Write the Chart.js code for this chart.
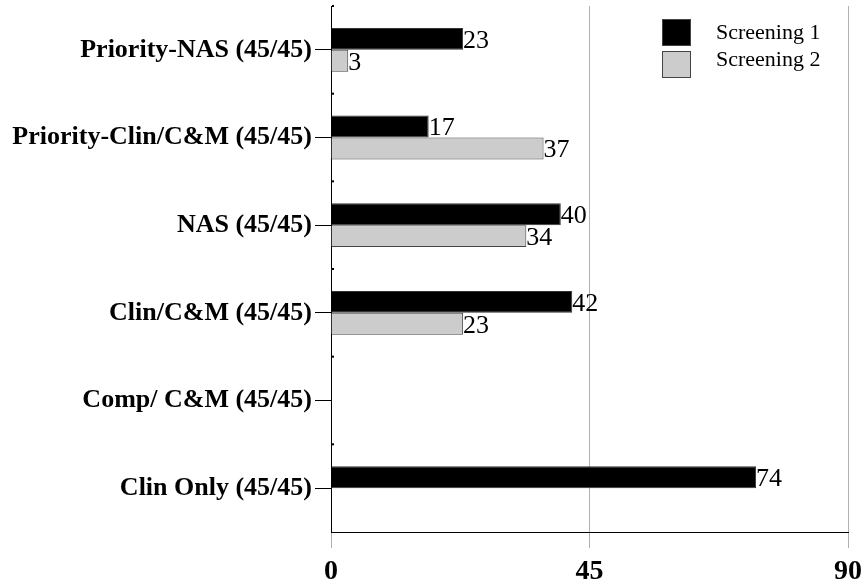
<!DOCTYPE html>
<html>
<head>
<meta charset="utf-8">
<script src="https://cdn.jsdelivr.net/npm/chart.js@4/dist/chart.umd.min.js"></script>
<style>
  html, body { margin: 0; padding: 0; background: #fff; }
  #wrap { width: 865px; height: 583px; position: relative; }
</style>
</head>
<body>
<div id="wrap"><canvas id="chart"></canvas></div>
<script>
const categories = ['Priority-NAS (45/45)', 'Priority-Clin/C&M (45/45)', 'NAS (45/45)', 'Clin/C&M (45/45)', 'Comp/ C&M (45/45)', 'Clin Only (45/45)'];
const screening1 = [23, 17, 40, 42, null, 74];
const screening2 = [3, 37, 34, 23, null, null];
const seriesNames = ['Screening 1', 'Screening 2'];
const xTicks = [0, 45, 90];

const serif = '"Liberation Serif", "Times New Roman", Times, serif';

// value labels at the end of each bar
const valueLabels = {
  id: 'valueLabels',
  afterDatasetsDraw(chart) {
    const ctx = chart.ctx;
    ctx.save();
    ctx.font = '26px ' + serif;
    ctx.fillStyle = '#000';
    ctx.textAlign = 'left';
    ctx.textBaseline = 'middle';
    chart.data.datasets.forEach((ds, i) => {
      chart.getDatasetMeta(i).data.forEach((bar, j) => {
        if (ds.data[j] == null) return;
        ctx.fillText(String(ds.data[j]), bar.x, bar.y + 2);
      });
    });
    ctx.restore();
  }
};

// small marks between categories on the left axis
const boundaryMarks = {
  id: 'boundaryMarks',
  afterDraw(chart) {
    const y = chart.scales.y, ctx = chart.ctx;
    const step = (y.bottom - y.top) / categories.length;
    ctx.save();
    ctx.fillStyle = '#000';
    for (let i = 0; i < categories.length; i++) {
      ctx.fillRect(y.right + 1, y.top + i * step - 1, 2, 2);
    }
    ctx.restore();
  }
};

// legend box at top right
const legendBox = {
  id: 'legendBox',
  afterDraw(chart) {
    const ctx = chart.ctx;
    ctx.save();
    ctx.font = '22px ' + serif;
    ctx.textBaseline = 'middle';
    chart.data.datasets.forEach((ds, i) => {
      const top = 19 + i * 32;
      ctx.fillStyle = ds.backgroundColor;
      ctx.fillRect(662, top, 28, 26);
      ctx.strokeStyle = '#444';
      ctx.lineWidth = 1;
      ctx.strokeRect(662.5, top + 0.5, 28, 26);
      ctx.fillStyle = '#000';
      ctx.fillText(seriesNames[i], 716, 33 + i * 27);
    });
    ctx.restore();
  }
};

new Chart(document.getElementById('chart'), {
  type: 'bar',
  data: {
    labels: categories,
    datasets: [
      {
        label: seriesNames[0],
        data: screening1,
        backgroundColor: '#000000',
        borderColor: '#333333',
        borderWidth: 1,
        categoryPercentage: 0.5,
        barPercentage: 1
      },
      {
        label: seriesNames[1],
        data: screening2,
        backgroundColor: '#cccccc',
        borderColor: '#444444',
        borderWidth: 1,
        categoryPercentage: 0.5,
        barPercentage: 1
      }
    ]
  },
  options: {
    indexAxis: 'y',
    responsive: true,
    maintainAspectRatio: false,
    animation: false,
    layout: { padding: { top: 6, right: 17, left: 0, bottom: 0 } },
    plugins: {
      legend: { display: false },
      tooltip: { enabled: false }
    },
    scales: {
      x: {
        min: 0,
        max: 90,
        afterBuildTicks: (axis) => { axis.ticks = xTicks.map(v => ({ value: v })); },
        grid: {
          color: '#b0b0b0',
          lineWidth: 1,
          tickLength: 16,
          drawTicks: true
        },
        border: { color: '#000', width: 1 },
        ticks: {
          color: '#000',
          font: { family: serif, size: 28, weight: 'bold' },
          padding: 7,
          maxRotation: 0
        },
        afterFit: (axis) => {
          axis.height = 51;
          axis.paddingLeft = 0;
          axis.paddingRight = 0;
        }
      },
      y: {
        grid: {
          drawOnChartArea: false,
          offset: false,
          color: '#000',
          tickLength: 16,
          tickColor: '#000'
        },
        border: { color: '#000', width: 1 },
        ticks: {
          color: '#000',
          font: { family: serif, size: 26, weight: 'bold' },
          padding: 3
        },
        afterFit: (axis) => {
          axis.width = 331;
          axis.paddingTop = 0;
          axis.paddingBottom = 0;
        }
      }
    }
  },
  plugins: [valueLabels, boundaryMarks, legendBox]
});
</script>
</body>
</html>
